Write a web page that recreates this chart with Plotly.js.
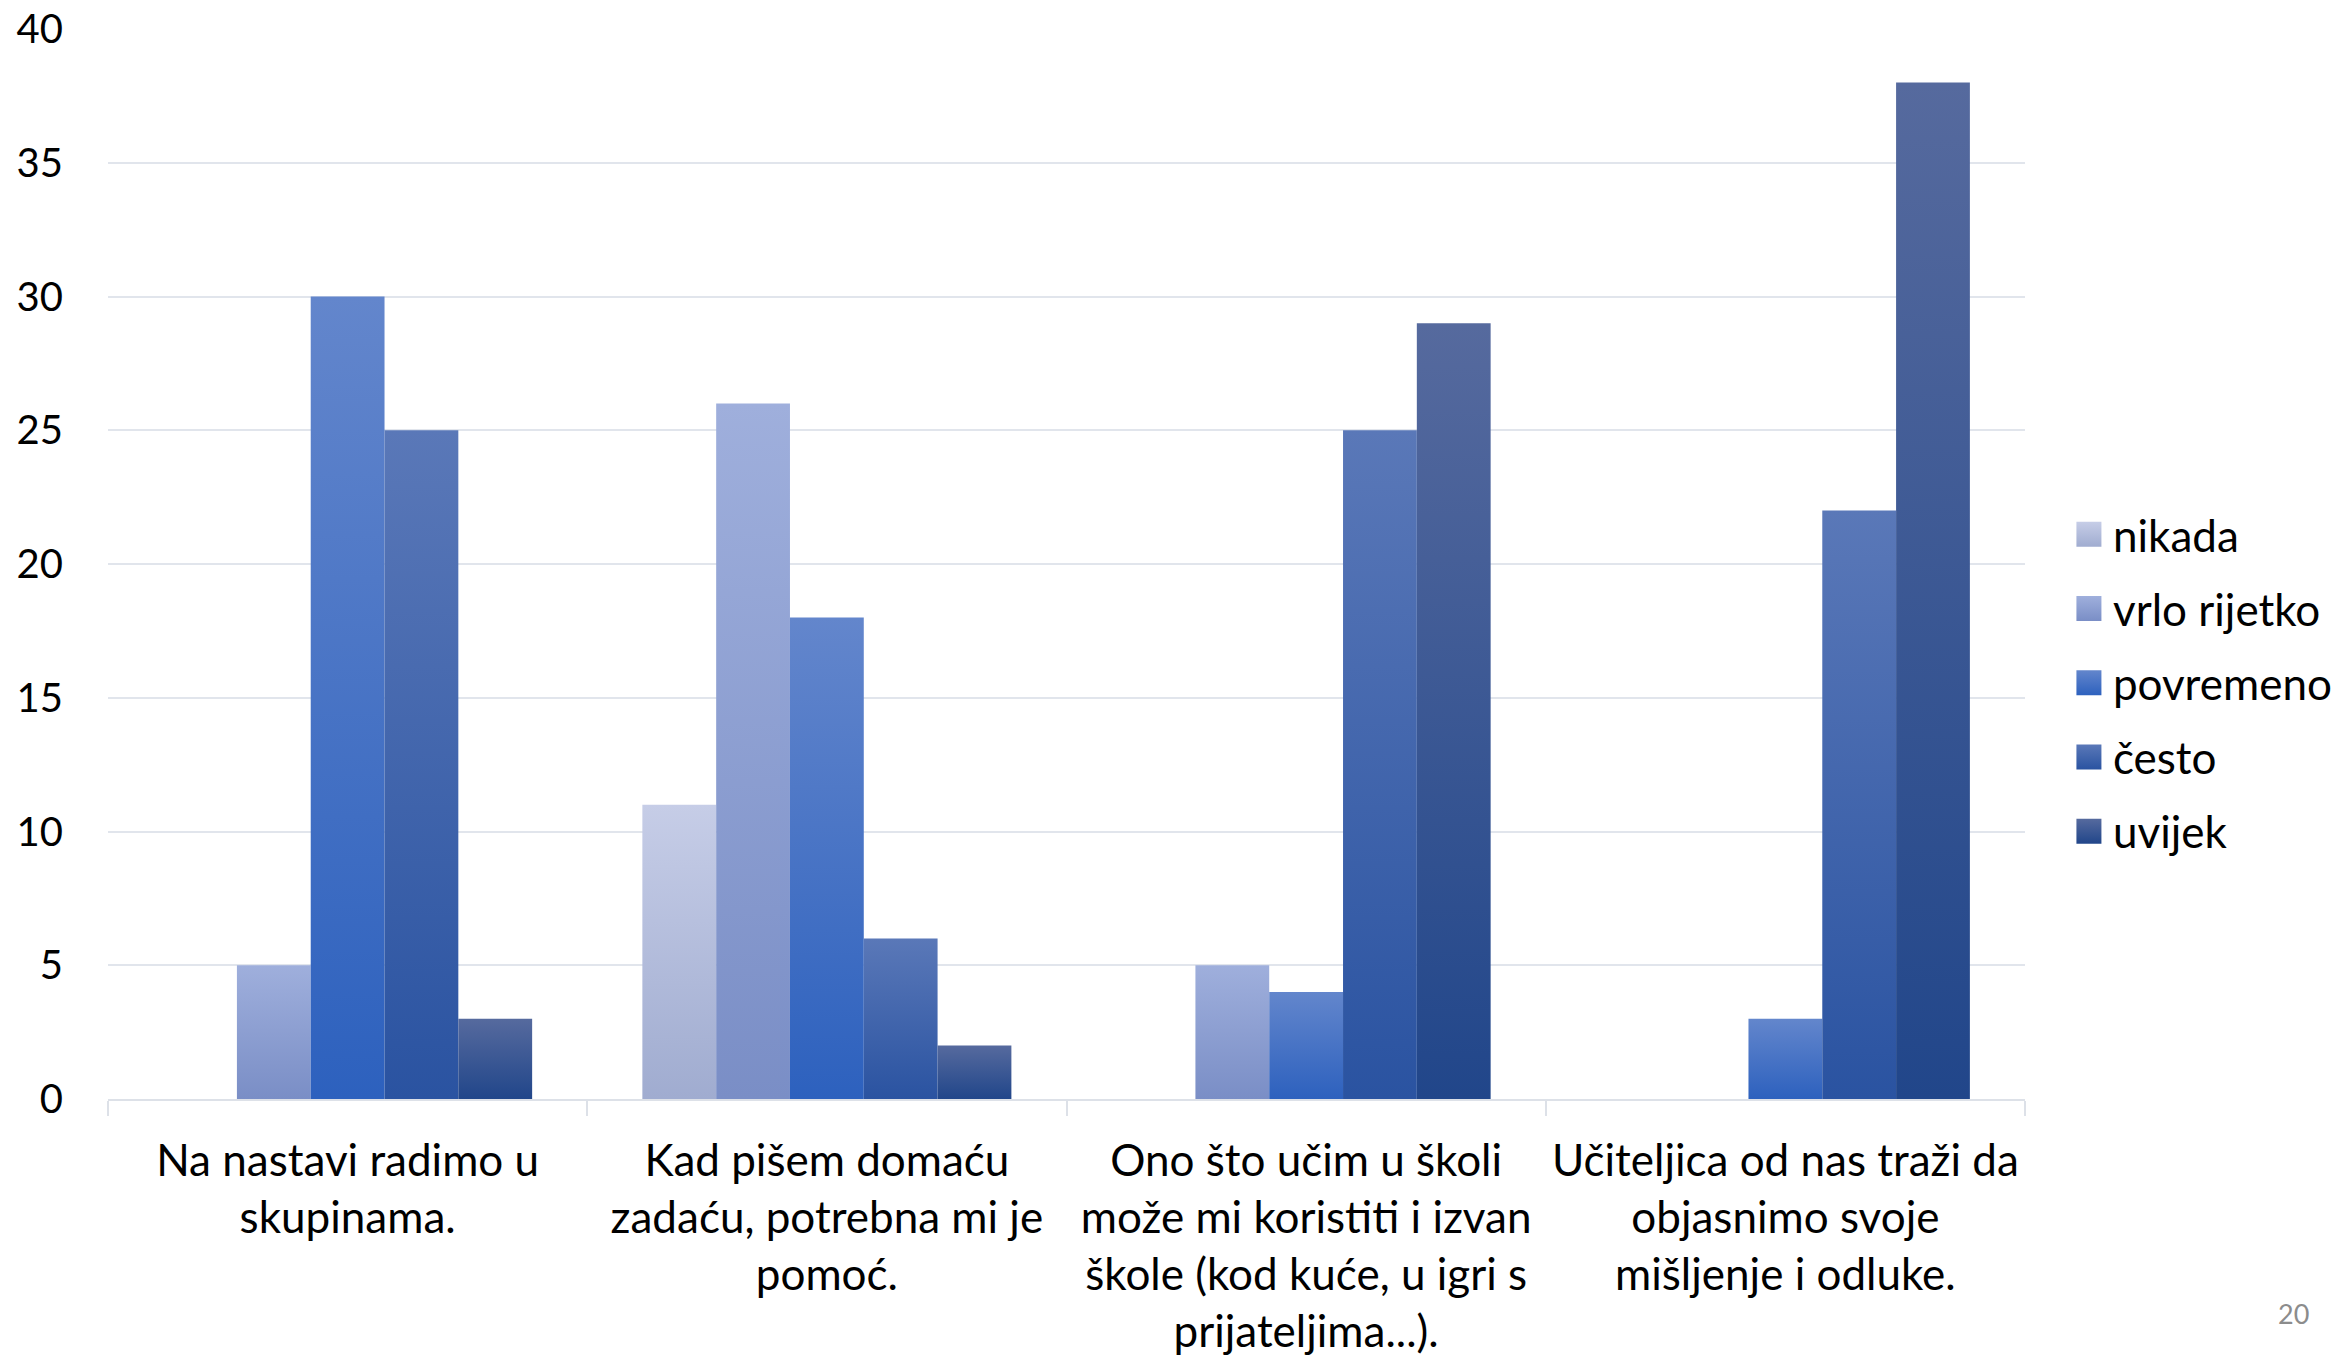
<!DOCTYPE html>
<html>
<head>
<meta charset="utf-8">
<script src="https://cdn.plot.ly/plotly-3.0.1.min.js"></script>
<style>
  html, body { margin: 0; padding: 0; background: #ffffff; }
  #chart { width: 2349px; height: 1361px; }
</style>
</head>
<body>
<div id="chart"></div>
<script>
const categories = [
  "Na nastavi radimo u<br>skupinama.",
  "Kad pišem domaću<br>zadaću, potrebna mi je<br>pomoć.",
  "Ono što učim u školi<br>može mi koristiti i izvan<br>škole (kod kuće, u igri s<br>prijateljima...).",
  "Učiteljica od nas traži da<br>objasnimo svoje<br>mišljenje i odluke."
];
const seriesNames = ["nikada", "vrlo rijetko", "povremeno", "često", "uvijek"];
const nikada = [0, 11, 0, 0];
const vrloRijetko = [5, 26, 5, 0];
const povremeno = [30, 18, 4, 3];
const cesto = [25, 6, 25, 22];
const uvijek = [3, 2, 29, 38];
const seriesValues = [nikada, vrloRijetko, povremeno, cesto, uvijek];
const seriesColors = ["#B5BEDE", "#8C9ED2", "#4571C6", "#3C63AD", "#2F4F92"];
const gradientTop = ["#C6CDE7", "#9FAFDC", "#6386CC", "#5A78B8", "#566A9E"];
const gradientBottom = ["#A0ACD0", "#7A8EC6", "#2D61BE", "#2A53A1", "#21468A"];
const yTicks = [0, 5, 10, 15, 20, 25, 30, 35, 40];

const FONT = "Lato, 'Open Sans', sans-serif";

const traces = seriesNames.map((name, i) => ({
  type: "bar",
  name: name,
  legendgroup: "g" + i,
  x: categories,
  y: seriesValues[i],
  marker: { color: seriesColors[i], line: { width: 0 } },
  hoverinfo: "skip"
}));

const layout = {
  width: 2349,
  height: 1361,
  paper_bgcolor: "#ffffff",
  plot_bgcolor: "#ffffff",
  font: { family: FONT, color: "#000000", size: 40 },
  margin: { l: 108, r: 322, t: 29, b: 262, pad: 0 },
  barmode: "group",
  bargap: 0.23,
  bargroupgap: 0,
  showlegend: true,
  legend: {
    x: 1.025, xanchor: "left",
    y: 0.389, yanchor: "middle",
    traceorder: "grouped",
    tracegroupgap: 14,
    font: { family: FONT, size: 44, color: "#000000" },
    bgcolor: "rgba(0,0,0,0)"
  },
  xaxis: {
    type: "category",
    tickson: "boundaries",
    ticks: "outside",
    ticklen: 15,
    tickwidth: 2,
    tickcolor: "#DDE1E8",
    showline: true,
    linecolor: "#DDE1E8",
    linewidth: 2,
    showgrid: false,
    tickfont: { family: FONT, size: 44, color: "#000000" },
    ticklabelstandoff: 22,
    fixedrange: true
  },
  yaxis: {
    range: [0, 40],
    tickvals: yTicks,
    ticktext: yTicks.map(String),
    showgrid: true,
    gridcolor: "#E1E5EC",
    gridwidth: 2,
    zeroline: false,
    showline: false,
    ticks: "",
    tickfont: { family: FONT, size: 40, color: "#000000" },
    ticklabelstandoff: 44,
    fixedrange: true
  },
  annotations: [{
    text: "20",
    xref: "paper", yref: "paper",
    x: 1.14, y: -0.2,
    xanchor: "center", yanchor: "middle",
    showarrow: false,
    font: { family: FONT, size: 27, color: "#8C8C8C" }
  }]
};

function applyGradients(gd) {
  const svgNS = "http://www.w3.org/2000/svg";
  const svg = gd.querySelector("svg.main-svg");
  let defs = svg.querySelector("defs");
  if (!defs) { defs = document.createElementNS(svgNS, "defs"); svg.insertBefore(defs, svg.firstChild); }
  seriesNames.forEach((n, i) => {
    const lg = document.createElementNS(svgNS, "linearGradient");
    lg.setAttribute("id", "barGrad" + i);
    lg.setAttribute("x1", "0"); lg.setAttribute("y1", "0");
    lg.setAttribute("x2", "0"); lg.setAttribute("y2", "1");
    const s1 = document.createElementNS(svgNS, "stop");
    s1.setAttribute("offset", "0"); s1.setAttribute("stop-color", gradientTop[i]);
    const s2 = document.createElementNS(svgNS, "stop");
    s2.setAttribute("offset", "1"); s2.setAttribute("stop-color", gradientBottom[i]);
    lg.appendChild(s1); lg.appendChild(s2);
    defs.appendChild(lg);
  });
  gd.querySelectorAll(".barlayer .trace").forEach((t, i) => {
    t.querySelectorAll("path").forEach(p => { p.style.fill = "url(#barGrad" + i + ")"; });
  });
  gd.querySelectorAll(".legend .traces").forEach((t, i) => {
    t.querySelectorAll(".legendpoints path").forEach(p => {
      p.setAttribute("d", "M8.5,12.5H-16.5V-12.5H8.5Z");
      p.style.fill = "url(#barGrad" + i + ")";
      p.style.strokeWidth = "0";
    });
  });
}

Plotly.newPlot("chart", traces, layout, { staticPlot: true, displayModeBar: false })
  .then(applyGradients);
</script>
</body>
</html>
